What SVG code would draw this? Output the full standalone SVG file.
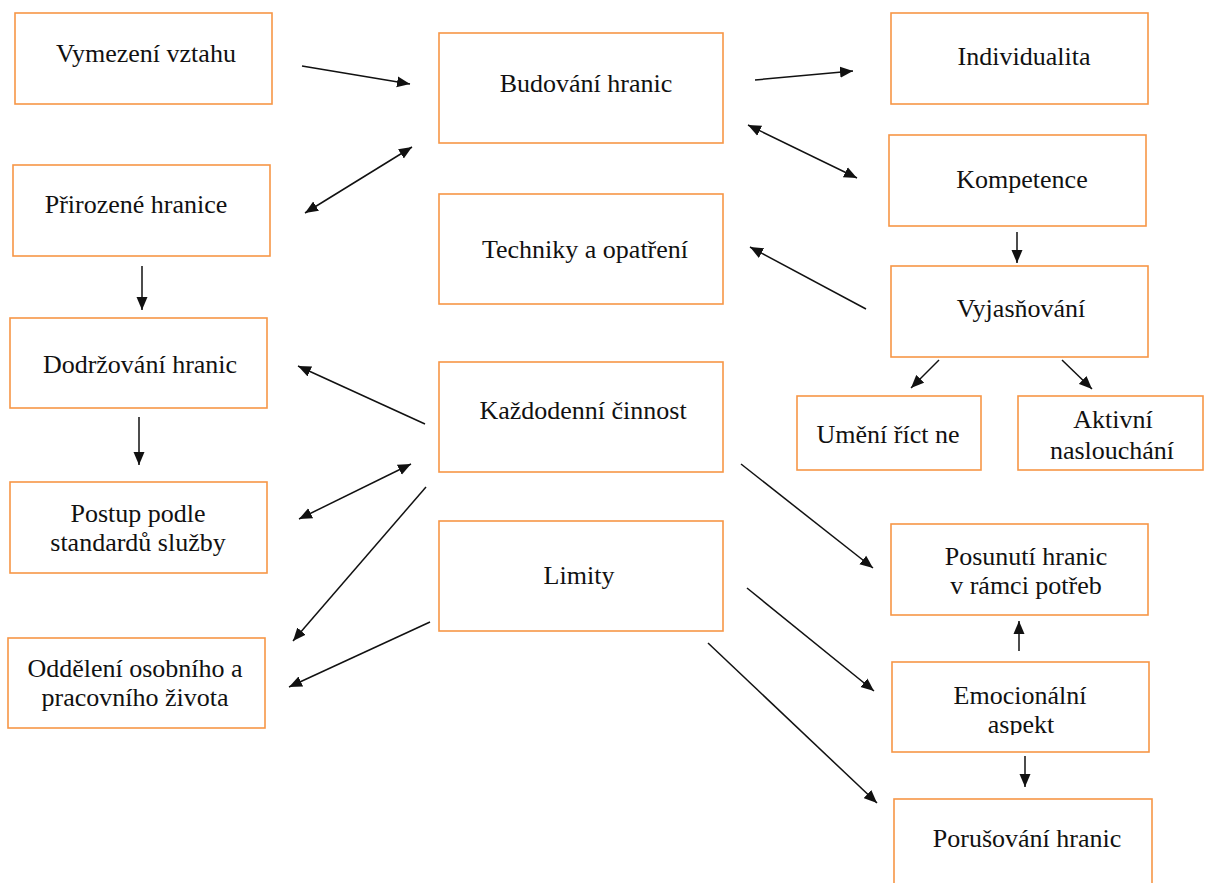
<svg xmlns="http://www.w3.org/2000/svg" width="1208" height="883" viewBox="0 0 1208 883">
<style>
.box{fill:#fff;stroke:#F79646;stroke-width:1.6}
.t{font-family:'Liberation Serif','Times New Roman',serif;font-size:26px;fill:#111;text-anchor:middle}
.c line{stroke:#111;stroke-width:1.5;marker-end:url(#ah)}
.c line.b{marker-start:url(#ah)}
</style>
<defs>
<marker id="ah" markerUnits="userSpaceOnUse" markerWidth="14" markerHeight="12" refX="13" refY="5.5" orient="auto-start-reverse" viewBox="0 0 14 11">
<path d="M0,0 L13,5.5 L0,11 z" fill="#111"/>
</marker>
<clipPath id="clipEmo"><rect x="890" y="660" width="262" height="75"/></clipPath>
</defs>
<rect width="1208" height="883" fill="#fff"/>
<g id="n-vymezeni"><rect class="box" x="15" y="13" width="257" height="91"/><text class="t" x="146" y="62">Vymezení vztahu</text></g>
<g id="n-prirozene"><rect class="box" x="13" y="165" width="257" height="91"/><text class="t" x="136" y="213">Přirozené hranice</text></g>
<g id="n-dodrzovani"><rect class="box" x="10" y="318" width="257" height="90"/><text class="t" x="140" y="373">Dodržování hranic</text></g>
<g id="n-postup"><rect class="box" x="10" y="482" width="257" height="91"/><text class="t" x="138" y="522">Postup podle</text><text class="t" x="138" y="551">standardů služby</text></g>
<g id="n-oddeleni"><rect class="box" x="8" y="638" width="257" height="90"/><text class="t" x="135" y="677">Oddělení osobního a</text><text class="t" x="135" y="706">pracovního života</text></g>
<g id="n-budovani"><rect class="box" x="439" y="33" width="284" height="110"/><text class="t" x="586" y="92">Budování hranic</text></g>
<g id="n-techniky"><rect class="box" x="439" y="194" width="284" height="110"/><text class="t" x="585" y="258">Techniky a opatření</text></g>
<g id="n-kazdodenni"><rect class="box" x="439" y="362" width="284" height="110"/><text class="t" x="583" y="419">Každodenní činnost</text></g>
<g id="n-limity"><rect class="box" x="439" y="521" width="284" height="110"/><text class="t" x="579" y="584">Limity</text></g>
<g id="n-individualita"><rect class="box" x="891" y="13" width="257" height="91"/><text class="t" x="1024" y="65">Individualita</text></g>
<g id="n-kompetence"><rect class="box" x="889" y="135" width="257" height="91"/><text class="t" x="1022" y="188">Kompetence</text></g>
<g id="n-vyjasnovani"><rect class="box" x="891" y="266" width="257" height="91"/><text class="t" x="1021" y="317">Vyjasňování</text></g>
<g id="n-umeni"><rect class="box" x="797" y="396" width="184" height="74"/><text class="t" x="888" y="443">Umění říct ne</text></g>
<g id="n-aktivni"><rect class="box" x="1018" y="396" width="185" height="74"/><text class="t" x="1113" y="428">Aktivní</text><text class="t" x="1112" y="459">naslouchání</text></g>
<g id="n-posunuti"><rect class="box" x="891" y="524" width="257" height="91"/><text class="t" x="1026" y="565">Posunutí hranic</text><text class="t" x="1026" y="594">v rámci potřeb</text></g>
<g id="n-emocionalni"><rect class="box" x="892" y="662" width="257" height="90"/><g clip-path="url(#clipEmo)"><text class="t" x="1020" y="704">Emocionální</text><text class="t" x="1021" y="733">aspekt</text></g></g>
<g id="n-porusovani"><rect class="box" x="894" y="799" width="258" height="110"/><text class="t" x="1027" y="847">Porušování hranic</text></g>
<g id="connectors" class="c">
<line x1="302" y1="66" x2="410" y2="84"/>
<line class="b" x1="305" y1="213" x2="412" y2="147"/>
<line x1="142" y1="266" x2="142" y2="310"/>
<line x1="139" y1="417" x2="139" y2="465"/>
<line x1="425" y1="424" x2="298" y2="366"/>
<line class="b" x1="299" y1="519" x2="411" y2="464"/>
<line x1="426" y1="487" x2="293" y2="641"/>
<line x1="430" y1="622" x2="289" y2="687"/>
<line x1="755" y1="80" x2="853" y2="71"/>
<line class="b" x1="748" y1="125" x2="857" y2="178"/>
<line x1="866" y1="309" x2="750" y2="247"/>
<line x1="1017" y1="232" x2="1017" y2="263"/>
<line x1="939" y1="360" x2="911" y2="388"/>
<line x1="1062" y1="360" x2="1092" y2="389"/>
<line x1="741" y1="464" x2="873" y2="568"/>
<line x1="747" y1="588" x2="874" y2="691"/>
<line x1="708" y1="643" x2="877" y2="803"/>
<line x1="1019" y1="651" x2="1019" y2="621"/>
<line x1="1025" y1="756" x2="1025" y2="787"/>
</g>
</svg>
